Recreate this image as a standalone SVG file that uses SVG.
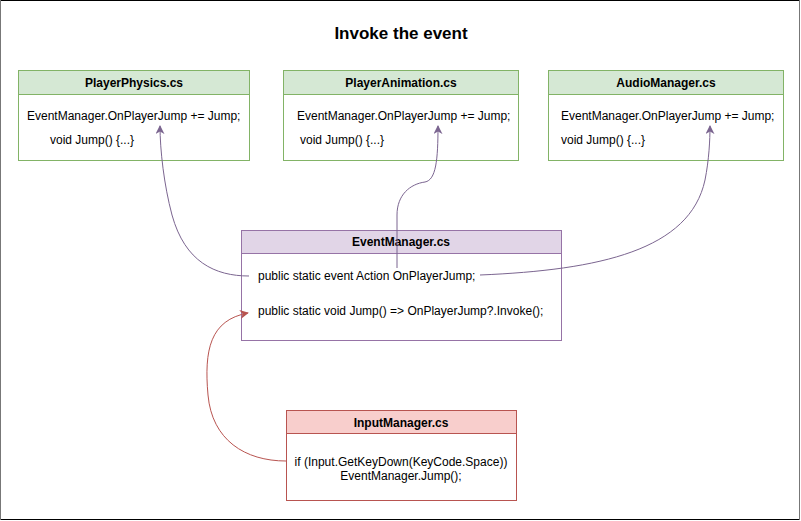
<svg xmlns="http://www.w3.org/2000/svg" width="801" height="521" viewBox="0 0 801 521">
<defs>
<style>
text{font-family:"Liberation Sans",Arial,sans-serif;font-size:12px;fill:#000}
.h{font-weight:bold;text-anchor:middle}
.g{fill:#d5e8d4;stroke:#82b366}
.gb{fill:#fff;stroke:#82b366}
.p{fill:#e1d5e7;stroke:#9673a6}
.pb{fill:#fff;stroke:#9673a6}
.r{fill:#f8cecc;stroke:#b85450}
.rb{fill:#fff;stroke:#b85450}
.cp{fill:none;stroke:#7b6590;stroke-width:1}
.cr{fill:none;stroke:#b85450;stroke-width:1}
</style>
<marker id="ap" viewBox="0 0 10 10" refX="9" refY="5" markerWidth="9" markerHeight="9" orient="auto" markerUnits="userSpaceOnUse"><path d="M0,0 L10,5 L0,10 L3,5 Z" fill="#7b6590"/></marker>
<marker id="ar" viewBox="0 0 10 10" refX="9" refY="5" markerWidth="9" markerHeight="9" orient="auto" markerUnits="userSpaceOnUse"><path d="M0,0 L10,5 L0,10 L3,5 Z" fill="#b85450"/></marker>
</defs>
<rect x="0.5" y="0.5" width="799" height="519" fill="#fff" stroke="#000"/>
<line x1="0.5" y1="0" x2="0.5" y2="520" stroke="#777"/>
<line x1="799.5" y1="0" x2="799.5" y2="520" stroke="#777"/>
<text x="401" y="39" class="h" style="font-size:17px">Invoke the event</text>

<g id="playerphysics">
<rect x="18.5" y="94.5" width="231" height="66" class="gb"/>
<rect x="18.5" y="70.5" width="231" height="24" class="g"/>
<text x="134" y="87" class="h">PlayerPhysics.cs</text>
<text x="27" y="120">EventManager.OnPlayerJump += Jump;</text>
<text x="50" y="144">void Jump() {...}</text>
</g>

<g id="playeranimation">
<rect x="283.5" y="94.5" width="235" height="66" class="gb"/>
<rect x="283.5" y="70.5" width="235" height="24" class="g"/>
<text x="401" y="87" class="h">PlayerAnimation.cs</text>
<text x="297" y="120">EventManager.OnPlayerJump += Jump;</text>
<text x="300" y="144">void Jump() {...}</text>
</g>

<g id="audiomanager">
<rect x="548.5" y="94.5" width="235" height="66" class="gb"/>
<rect x="548.5" y="70.5" width="235" height="24" class="g"/>
<text x="666" y="87" class="h">AudioManager.cs</text>
<text x="561" y="120">EventManager.OnPlayerJump += Jump;</text>
<text x="561" y="144">void Jump() {...}</text>
</g>

<g id="eventmanager">
<rect x="241.5" y="253.5" width="320" height="87" class="pb"/>
<rect x="241.5" y="230.5" width="320" height="23" class="p"/>
<text x="401" y="246" class="h">EventManager.cs</text>
<text x="258" y="280">public static event Action OnPlayerJump;</text>
<text x="258" y="315">public static void Jump() =&gt; OnPlayerJump?.Invoke();</text>
</g>

<g id="inputmanager">
<rect x="286.5" y="433.5" width="230" height="67" class="rb"/>
<rect x="286.5" y="410.5" width="230" height="23" class="r"/>
<text x="401" y="427" class="h">InputManager.cs</text>
<text x="401" y="466" text-anchor="middle">if (Input.GetKeyDown(KeyCode.Space))</text>
<text x="401" y="480" text-anchor="middle">EventManager.Jump();</text>
</g>

<g id="connectors">
<path class="cp" d="M249,276 C215,276 185,262 172,215 C164,185 160,150 160,126" marker-end="url(#ap)"/>
<path class="cp" d="M397,268 L397,215 C397,195 410,184 425,182 C436,180 438,160 438,126" marker-end="url(#ap)"/>
<path class="cp" d="M480,275 C600,270 690,250 705,180 C709,160 710,140 710,126" marker-end="url(#ap)"/>
<path class="cr" d="M286,461 C245,461 212,440 208,395 C204,350 210,320 248,313" marker-end="url(#ar)"/>
</g>
</svg>
